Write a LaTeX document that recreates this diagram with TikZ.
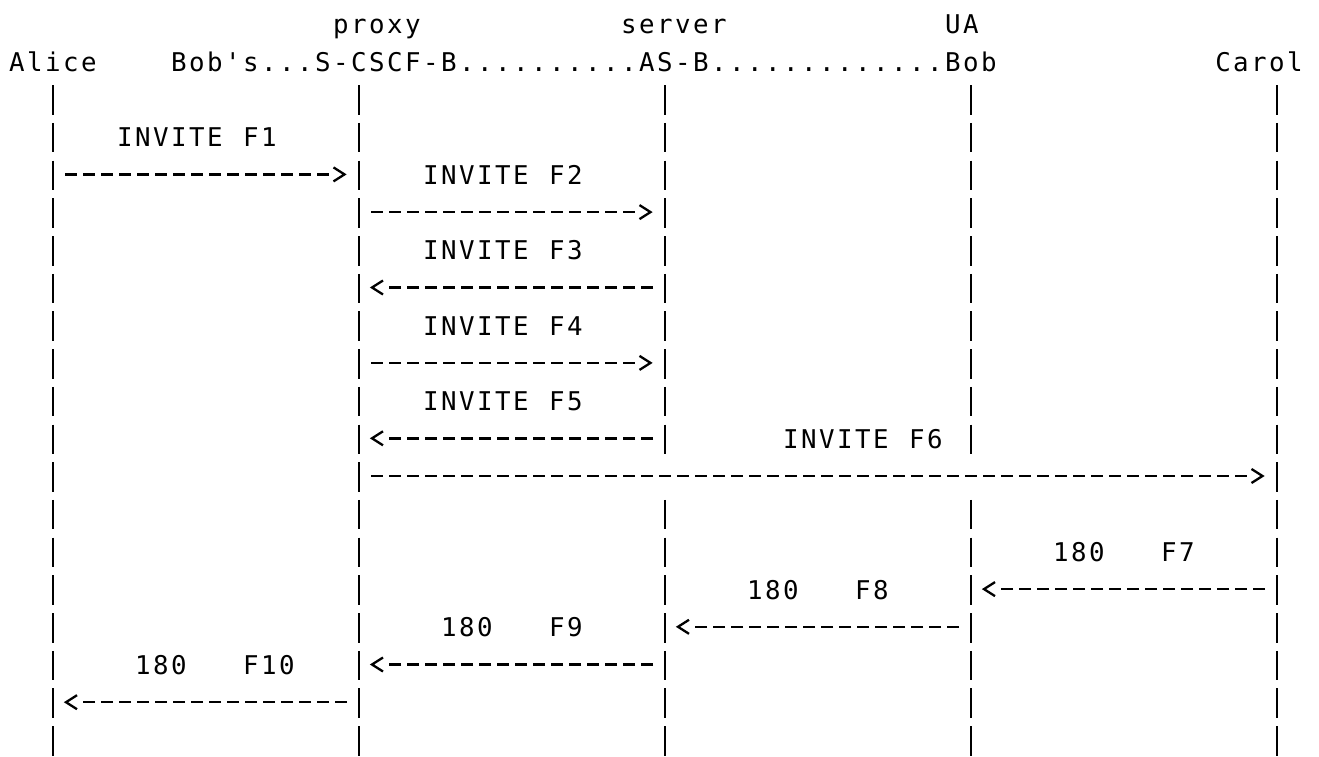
\documentclass[tikz,border=0pt]{standalone}
\usepackage{fontspec}
\setmonofont{DejaVu Sans Mono}
\tikzset{
  lifeline/.style={line width=2.7pt, dash pattern=on 29.5pt off 8.2pt},
  shaft/.style={line width=2.5pt, dash pattern=on 12pt off 6pt},
  chev/.style={line width=2.3pt, line join=miter},
  lbl/.style={anchor=base west, inner sep=0pt, outer sep=0pt,
    font=\ttfamily\fontsize{25.8pt}{30pt}\selectfont},
}
\newcommand{\cells}[1]{\cellsi#1\relax}
\def\cellsi#1{\ifx#1\relax\else\makebox[18pt]{#1}\expandafter\cellsi\fi}
\newcommand{\msgR}[2]{%
  \draw[shaft] ([xshift=12pt]#1) -- ([xshift=-30pt]#2);
  \draw[chev] ([xshift=-25.5pt,yshift=7pt]#2) -- ([xshift=-14.5pt]#2) -- ([xshift=-25.5pt,yshift=-7pt]#2);}
\newcommand{\msgL}[2]{%
  \draw[shaft] ([xshift=-12pt]#1) -- ([xshift=30pt]#2);
  \draw[chev] ([xshift=24pt,yshift=7pt]#2) -- ([xshift=13pt]#2) -- ([xshift=24pt,yshift=-7pt]#2);}
\begin{document}
\begin{tikzpicture}[x=1pt,y=-1pt]
\useasboundingbox (0,0) rectangle (1319,757);
% header labels
\node[lbl] (proxy)  at (332,33.6) {\cells{proxy}};
\node[lbl] (server) at (620,33.6) {\cells{server}};
\node[lbl] (ua)     at (944,33.6) {\cells{UA}};
\node[lbl] (alice)  at (8,71.3)   {\cells{Alice}};
\node[lbl] (chain)  at (170,71.3) {\cells{Bob's...S-CSCF-B..........AS-B.............Bob}};
\node[lbl] (carol)  at (1214,71.3) {\cells{Carol}};
% lifelines (AS-B and Bob are interrupted by the F6 arrow row)
\foreach \n/\x in {A/53,S/359,C/1277}{
  \coordinate (\n-top) at (\x,85.25);
  \coordinate (\n-bot) at (\x,755.65);
  \draw[lifeline] (\n-top) -- (\n-bot);
}
\foreach \n/\x in {P/665,B/971}{
  \coordinate (\n-top) at (\x,85.25);
  \coordinate (\n-gap1) at (\x,454.05);
  \coordinate (\n-gap2) at (\x,499.95);
  \coordinate (\n-bot) at (\x,755.65);
  \draw[lifeline] (\n-top) -- (\n-gap1);
  \draw[lifeline] (\n-gap2) -- (\n-bot);
}
% message labels
\node[lbl] (l1)  at (116,146.7) {\cells{INVITE~F1}};
\node[lbl] (l2)  at (422,184.4) {\cells{INVITE~F2}};
\node[lbl] (l3)  at (422,259.8) {\cells{INVITE~F3}};
\node[lbl] (l4)  at (422,335.2) {\cells{INVITE~F4}};
\node[lbl] (l5)  at (422,410.6) {\cells{INVITE~F5}};
\node[lbl] (l6)  at (782,448.3) {\cells{INVITE~F6}};
\node[lbl] (l7)  at (1052,561.4) {\cells{180~~~F7}};
\node[lbl] (l8)  at (746,599.1) {\cells{180~~~F8}};
\node[lbl] (l9)  at (440,636.8) {\cells{180~~~F9}};
\node[lbl] (l10) at (134,674.5) {\cells{180~~~F10}};
% message end points
\coordinate (f1s) at (53,174.4);   \coordinate (f1e) at (359,174.4);
\coordinate (f2s) at (359,212.1);  \coordinate (f2e) at (665,212.1);
\coordinate (f3s) at (665,287.5);  \coordinate (f3e) at (359,287.5);
\coordinate (f4s) at (359,362.9);  \coordinate (f4e) at (665,362.9);
\coordinate (f5s) at (665,438.3);  \coordinate (f5e) at (359,438.3);
\coordinate (f6s) at (359,476);    \coordinate (f6e) at (1277,476);
\coordinate (f7s) at (1277,589.1); \coordinate (f7e) at (971,589.1);
\coordinate (f8s) at (971,626.8);  \coordinate (f8e) at (665,626.8);
\coordinate (f9s) at (665,664.5);  \coordinate (f9e) at (359,664.5);
\coordinate (f10s) at (359,702.2); \coordinate (f10e) at (53,702.2);
% messages
\msgR{f1s}{f1e}
\msgR{f2s}{f2e}
\msgL{f3s}{f3e}
\msgR{f4s}{f4e}
\msgL{f5s}{f5e}
\msgR{f6s}{f6e}
\msgL{f7s}{f7e}
\msgL{f8s}{f8e}
\msgL{f9s}{f9e}
\msgL{f10s}{f10e}
\end{tikzpicture}
\end{document}
